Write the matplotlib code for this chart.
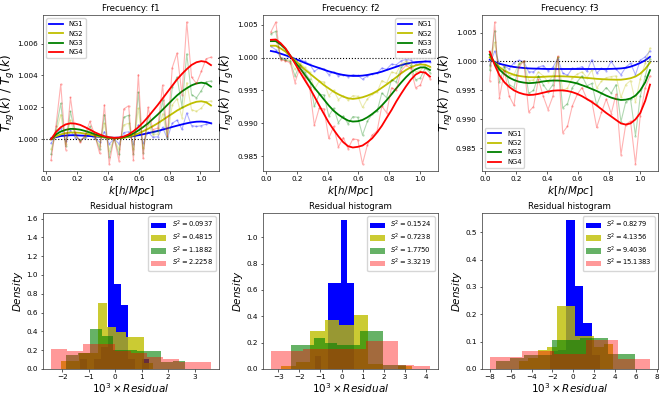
import numpy as np
import matplotlib
matplotlib.use('Agg')
import matplotlib.pyplot as plt
from matplotlib.ticker import MultipleLocator, FormatStrFormatter

# k bins (h/Mpc)
k_vals = [0.031, 0.063, 0.094, 0.126, 0.157, 0.188, 0.220, 0.251, 0.283, 0.314,
          0.346, 0.377, 0.408, 0.440, 0.471, 0.503, 0.534, 0.565, 0.597, 0.628,
          0.660, 0.691, 0.723, 0.754, 0.785, 0.817, 0.848, 0.880, 0.911, 0.942,
          0.974, 1.005, 1.037, 1.068]

# measured T_ng/T_g - 1, in units of 1e-3
f1_ng1 = [-0.25, 0.20, 0.70, -0.12, 0.55, 0.10, -0.02, 0.06, 0.25, 0.06, -0.18, 0.48, -0.30, 0.02, -0.28, 0.42, 0.47,
          -0.27, 0.90, -0.25, 0.45, 0.13, 0.15, 0.75, 0.05, 1.00, 1.20, 0.62, 1.65, 0.85, 0.80, 0.85, 0.95, 1.00]
f1_ng2 = [-0.62, 0.40, 1.55, -0.30, 1.20, 0.18, -0.08, 0.12, 0.52, 0.13, -0.40, 1.00, -0.72, 0.03, -0.62, 0.90, 1.00,
          -0.60, 1.95, -0.55, 0.95, 0.28, 0.33, 1.60, 0.10, 2.15, 2.55, 1.35, 3.55, 1.85, 1.75, 1.95, 2.35, 2.40]
f1_ng3 = [-0.95, 0.60, 2.25, -0.45, 1.75, 0.30, -0.12, 0.18, 0.80, 0.20, -0.62, 1.55, -1.10, 0.05, -0.95, 1.38, 1.50,
          -0.92, 2.95, -0.85, 1.45, 0.42, 0.50, 2.45, 0.15, 3.25, 3.90, 2.05, 5.35, 2.80, 2.60, 3.05, 3.60, 3.65]
f1_ng4 = [-1.32, 0.85, 3.45, -0.65, 2.62, 0.40, -0.20, 0.25, 1.12, 0.28, -0.88, 2.15, -1.55, 0.10, -1.35, 1.90, 2.10,
          -1.30, 4.05, -1.20, 2.00, 0.60, 0.70, 3.40, 0.20, 4.50, 5.40, 2.80, 7.35, 3.90, 3.50, 4.25, 5.05, 5.15]

f2_ng1 = [1.7, 1.2, 0.0, -0.2, 0.1, -0.8, -0.3, -0.6, -1.0, -2.1, -1.6, -1.7, -2.6, -2.2, -2.8, -2.6, -2.9,
          -2.6, -2.7, -3.3, -2.8, -2.5, -2.4, -1.6, -1.8, -1.0, -1.1, -0.5, -0.3, -0.4, -1.0, -0.9, -0.5, -0.7]
f2_ng2 = [2.7, 2.6, 0.0, -0.3, -0.4, -1.8, -0.8, -1.5, -2.2, -4.8, -3.6, -3.7, -5.8, -5.0, -6.4, -5.8, -6.5,
          -5.8, -5.9, -7.6, -6.3, -5.6, -5.3, -3.5, -3.9, -2.2, -2.4, -1.0, -0.6, -0.8, -2.2, -2.0, -1.1, -1.5]
f2_ng3 = [3.6, 4.0, -0.2, -0.4, -0.6, -2.8, -1.1, -2.2, -3.3, -7.4, -5.6, -5.7, -8.9, -7.7, -9.9, -8.9, -10.1,
          -9.0, -9.1, -11.8, -9.7, -8.6, -8.2, -5.4, -6.1, -3.4, -3.7, -1.5, -0.9, -1.2, -3.4, -3.1, -1.6, -2.3]
f2_ng4 = [3.9, 5.4, -0.3, -0.5, -0.8, -3.8, -1.5, -3.0, -4.5, -10.3, -7.7, -7.8, -12.3, -10.5, -13.6, -12.2, -13.9,
          -12.4, -12.5, -16.2, -13.3, -11.8, -11.2, -7.4, -8.4, -4.6, -5.0, -2.0, -1.2, -1.6, -4.6, -4.2, -2.2, -3.2]

f3_ng1 = [-0.6, 1.8, -0.3, -0.8, -1.3, -0.2, 0.2, 0.0, -1.8, -1.8, -1.0, -0.7, -1.6, -1.0, 0.5, -2.0, -2.4,
          -1.2, -1.2, -0.9, -1.7, 0.3, -2.0, -1.2, -1.6, 0.0, -1.3, -2.3, -1.0, -0.3, -2.3, 0.2, 0.8, 1.8]
f3_ng2 = [-0.8, 3.3, -1.5, -0.8, -2.5, -2.3, -0.3, 0.0, -3.3, -3.2, -1.8, -2.5, -3.5, -2.5, 0.8, -5.0, -4.6,
          -2.8, -2.2, -1.8, -2.8, -1.5, -4.6, -3.4, -2.8, -2.6, -2.5, -6.2, -4.0, -3.3, -7.0, -3.0, -0.3, 2.3]
f3_ng3 = [-1.5, 5.3, -3.5, -1.0, -4.0, -4.5, -0.5, 0.0, -5.5, -5.0, -2.5, -4.0, -5.2, -4.0, 0.7, -8.0, -7.3,
          -4.5, -3.5, -2.5, -4.2, -3.8, -7.5, -5.5, -4.5, -5.5, -4.0, -10.4, -7.0, -6.5, -12.8, -6.0, -2.5, 0.5]
f3_ng4 = [-3.3, 6.8, -6.3, -1.6, -6.0, -7.6, -1.0, 0.1, -8.7, -7.8, -3.1, -6.0, -8.3, -6.0, 0.9, -12.3, -11.2,
          -7.7, -5.7, -4.5, -6.5, -6.8, -11.4, -8.8, -6.5, -9.0, -5.7, -16.1, -10.9, -10.3, -17.7, -9.4, -4.5, -2.5]

# fitted curves at the same k bins (same units)
fit1_ng1 = [0.05, 0.13, 0.20, 0.23, 0.25, 0.25, 0.23, 0.22, 0.20, 0.17, 0.15, 0.12, 0.10, 0.09, 0.10, 0.12, 0.15,
            0.19, 0.25, 0.31, 0.38, 0.45, 0.52, 0.60, 0.68, 0.77, 0.85, 0.93, 1.00, 1.06, 1.10, 1.11, 1.08, 1.00]
fit1_ng2 = [0.0, 0.18, 0.30, 0.38, 0.42, 0.42, 0.40, 0.35, 0.30, 0.23, 0.16, 0.11, 0.07, 0.05, 0.06, 0.09, 0.15,
            0.24, 0.36, 0.50, 0.65, 0.82, 1.00, 1.20, 1.40, 1.60, 1.80, 1.97, 2.12, 2.25, 2.35, 2.38, 2.32, 2.12]
fit1_ng3 = [0.0, 0.30, 0.48, 0.59, 0.65, 0.64, 0.60, 0.52, 0.42, 0.32, 0.22, 0.15, 0.10, 0.08, 0.08, 0.13, 0.22,
            0.36, 0.55, 0.76, 1.00, 1.27, 1.55, 1.85, 2.15, 2.46, 2.75, 3.00, 3.20, 3.38, 3.50, 3.55, 3.50, 3.30]
fit1_ng4 = [0.0, 0.45, 0.75, 0.93, 1.00, 0.98, 0.90, 0.76, 0.60, 0.44, 0.30, 0.19, 0.12, 0.09, 0.10, 0.17, 0.30,
            0.50, 0.75, 1.05, 1.40, 1.77, 2.15, 2.55, 2.95, 3.36, 3.75, 4.10, 4.40, 4.66, 4.83, 4.90, 4.85, 4.65]

fit2_ng1 = [1.0, 0.85, 0.6, 0.35, 0.1, -0.2, -0.5, -0.8, -1.1, -1.35, -1.6, -1.85, -2.1, -2.3, -2.5, -2.65, -2.75,
            -2.8, -2.8, -2.75, -2.65, -2.5, -2.35, -2.15, -1.9, -1.65, -1.4, -1.15, -0.95, -0.8, -0.7, -0.65, -0.6, -0.6]
fit2_ng2 = [1.8, 1.8, 1.4, 0.9, 0.2, -0.4, -1.1, -1.8, -2.4, -3.0, -3.6, -4.2, -4.7, -5.2, -5.6, -5.95, -6.2,
            -6.3, -6.2, -6.05, -5.8, -5.5, -5.1, -4.6, -4.1, -3.55, -3.0, -2.4, -1.9, -1.5, -1.2, -1.05, -1.1, -1.4]
fit2_ng3 = [2.5, 2.5, 2.0, 1.3, 0.3, -0.7, -1.6, -2.6, -3.6, -4.6, -5.5, -6.4, -7.3, -8.1, -8.7, -9.2, -9.6,
            -9.75, -9.7, -9.5, -9.1, -8.6, -8.0, -7.3, -6.5, -5.6, -4.7, -3.8, -3.0, -2.3, -1.8, -1.5, -1.5, -1.9]
fit2_ng4 = [2.7, 2.75, 2.2, 1.4, 0.3, -0.9, -2.2, -3.4, -4.6, -5.9, -7.3, -8.6, -9.9, -11.0, -12.0, -12.9, -13.5,
            -13.7, -13.6, -13.4, -12.9, -12.3, -11.4, -10.4, -9.2, -8.0, -6.7, -5.5, -4.4, -3.4, -2.6, -2.2, -2.3, -2.9]

fit3_ng1 = [0.3, -0.1, -0.4, -0.6, -0.8, -0.95, -1.05, -1.13, -1.2, -1.23, -1.25, -1.28, -1.3, -1.3, -1.3, -1.3, -1.3,
            -1.3, -1.3, -1.3, -1.3, -1.3, -1.3, -1.3, -1.3, -1.28, -1.25, -1.2, -1.1, -0.9, -0.6, -0.25, 0.2, 0.8]
fit3_ng2 = [0.7, -0.2, -1.0, -1.6, -2.0, -2.3, -2.5, -2.62, -2.7, -2.72, -2.7, -2.65, -2.6, -2.57, -2.55, -2.57, -2.6,
            -2.65, -2.7, -2.78, -2.85, -2.92, -3.0, -3.05, -3.1, -3.13, -3.15, -3.15, -3.05, -2.9, -2.6, -2.1, -1.3, -0.2]
fit3_ng3 = [1.2, -0.3, -1.4, -2.2, -2.8, -3.2, -3.5, -3.65, -3.75, -3.7, -3.6, -3.45, -3.35, -3.3, -3.3, -3.35, -3.45,
            -3.6, -3.8, -4.1, -4.4, -4.75, -5.1, -5.5, -5.9, -6.25, -6.5, -6.65, -6.6, -6.4, -5.9, -5.0, -3.6, -1.5]
fit3_ng4 = [1.7, -0.6, -2.4, -3.6, -4.4, -5.0, -5.4, -5.65, -5.8, -5.75, -5.6, -5.4, -5.2, -5.05, -5.0, -5.0, -5.1,
            -5.3, -5.6, -6.0, -6.5, -7.0, -7.6, -8.25, -8.9, -9.5, -10.1, -10.7, -10.9, -10.7, -10.0, -8.9, -6.8, -4.0]

series_names = ['NG1', 'NG2', 'NG3', 'NG4']
freq_names = ['f1', 'f2', 'f3']

# residual histograms: range (lo, hi) of the 10 bins and bar heights (density)
h1_lo = [-1.33, -2.05, -1.86, -2.42]
h1_hi = [1.27, 1.44, 2.62, 3.61]
h1_ng1 = [0.11, 0.0, 0.11, 0.23, 1.58, 0.90, 0.68, 0.11, 0.0, 0.11]
h1_ng2 = [0.08, 0.08, 0.17, 0.17, 0.70, 0.45, 0.39, 0.34, 0.34, 0.06]
h1_ng3 = [0.15, 0.17, 0.42, 0.35, 0.20, 0.20, 0.19, 0.19, 0.07, 0.09]
h1_ng4 = [0.21, 0.19, 0.27, 0.27, 0.19, 0.17, 0.13, 0.11, 0.07, 0.07]

h2_lo = [-1.275, -2.86, -2.4, -3.35]
h2_hi = [1.825, 4.04, 3.05, 4.2]
h2_ng1 = [0.095, 0.0, 0.653, 0.653, 1.127, 0.653, 0.0, 0.0, 0.0, 0.0]
h2_ng2 = [0.02, 0.05, 0.29, 0.375, 0.33, 0.41, 0.04, 0.0, 0.02, 0.0]
h2_ng3 = [0.185, 0.185, 0.235, 0.20, 0.185, 0.185, 0.29, 0.29, 0.03, 0.03]
h2_ng4 = [0.134, 0.134, 0.152, 0.152, 0.152, 0.152, 0.21, 0.21, 0.03, 0.02]

h3_lo = [-2.25, -5.2, -7.4, -8.0]
h3_hi = [5.75, 3.8, 5.95, 7.35]
h3_ng1 = [0.065, 0.07, 0.543, 0.304, 0.169, 0.05, 0.0, 0.0, 0.0, 0.0]
h3_ng2 = [0.03, 0.04, 0.07, 0.08, 0.23, 0.23, 0.12, 0.12, 0.08, 0.09]
h3_ng3 = [0.03, 0.04, 0.05, 0.05, 0.105, 0.105, 0.115, 0.115, 0.053, 0.053]
h3_ng4 = [0.045, 0.045, 0.065, 0.065, 0.055, 0.055, 0.105, 0.105, 0.035, 0.035]

s2_labels = [['0.0937', '0.4815', '1.1882', '2.2258'],
             ['0.1524', '0.7238', '1.7750', '3.3219'],
             ['0.8279', '4.1356', '9.4036', '15.1383']]

plt.rcParams.update({
        'font.size': 5.2,
        'axes.linewidth': 0.55,
        'axes.edgecolor': '#444444',
        'xtick.major.size': 1.8,
        'ytick.major.size': 1.8,
        'xtick.major.width': 0.45,
        'ytick.major.width': 0.45,
        'xtick.major.pad': 1.8,
        'ytick.major.pad': 1.8,
        'axes.titlepad': 3.1,
        'axes.labelpad': 2.0,
        'legend.fontsize': 4.9,
})

colours = ['b', 'y', 'g', 'r']
hist_alpha = [1.0, 0.8, 0.6, 0.4]

fig = plt.figure(figsize=(6.64, 3.99), dpi=100)

lefts = [0.0648, 0.396, 0.7255]
widths = [0.265, 0.2636, 0.2655]

all_series = [[f1_ng1, f1_ng2, f1_ng3, f1_ng4],
              [f2_ng1, f2_ng2, f2_ng3, f2_ng4],
              [f3_ng1, f3_ng2, f3_ng3, f3_ng4]]
all_fits = [[fit1_ng1, fit1_ng2, fit1_ng3, fit1_ng4],
            [fit2_ng1, fit2_ng2, fit2_ng3, fit2_ng4],
            [fit3_ng1, fit3_ng2, fit3_ng3, fit3_ng4]]
all_hist = [[h1_ng1, h1_ng2, h1_ng3, h1_ng4],
            [h2_ng1, h2_ng2, h2_ng3, h2_ng4],
            [h3_ng1, h3_ng2, h3_ng3, h3_ng4]]
all_lo = [h1_lo, h2_lo, h3_lo]
all_hi = [h1_hi, h2_hi, h3_hi]
leg_loc = ['upper left', 'upper right', 'lower left']
y_step = [0.002, 0.005, 0.005]
hx_step = [1, 1, 2]
hy_step = [0.2, 0.2, 0.1]

k = np.array(k_vals)

for idx in range(3):
        # ratio panels
        ax = fig.add_axes([lefts[idx], 0.5714, widths[idx], 0.391])
        ax.axhline(1.0, color='k', ls=':', lw=0.8, zorder=1)
        handles = []
        for j in range(4):
                dev = np.array(all_series[idx][j])
                ax.plot(k, 1 + dev/1000., '-o', color=colours[j], alpha=0.3, lw=0.8, ms=1.6, mew=0)
                fit = np.array(all_fits[idx][j])
                line, = ax.plot(k, 1 + fit/1000., color=colours[j], lw=1.3, label=series_names[j])
                handles.append(line)
        ax.legend(handles=handles, loc=leg_loc[idx])
        ax.set_title('Frecuency: ' + freq_names[idx])
        ax.set_xlabel(r'$k[h/Mpc]$', fontsize=7.5, labelpad=1.5)
        ax.set_ylabel(r'$T_{ng}(k)\ /\ T_g(k)$', fontsize=8.8, labelpad=0.5)
        ax.xaxis.set_major_locator(MultipleLocator(0.2))
        ax.xaxis.set_major_formatter(FormatStrFormatter('%.1f'))
        ax.yaxis.set_major_locator(MultipleLocator(y_step[idx]))
        ax.yaxis.set_major_formatter(FormatStrFormatter('%.3f'))

        # residual histograms
        ax = fig.add_axes([lefts[idx], 0.0752, widths[idx], 0.391])
        for j in range(4):
                edges = np.linspace(all_lo[idx][j], all_hi[idx][j], 11)
                centers = 0.5*(edges[:-1] + edges[1:])
                ax.hist(centers, bins=edges, weights=all_hist[idx][j], color=colours[j],
                        alpha=hist_alpha[j], label=r'$S^2 = %s$' % s2_labels[idx][j])
        ax.legend(loc='upper right', labelspacing=0.2, handlelength=2.2, handleheight=0.9)
        ax.set_title('Residual histogram')
        ax.set_xlabel(r'$10^3 \times Residual$', fontsize=7.5, labelpad=1.0)
        ax.set_ylabel(r'$Density$', fontsize=7.5, labelpad=1.0)
        ax.xaxis.set_major_locator(MultipleLocator(hx_step[idx]))
        ax.yaxis.set_major_locator(MultipleLocator(hy_step[idx]))

fig.savefig('out.png', dpi=100)
